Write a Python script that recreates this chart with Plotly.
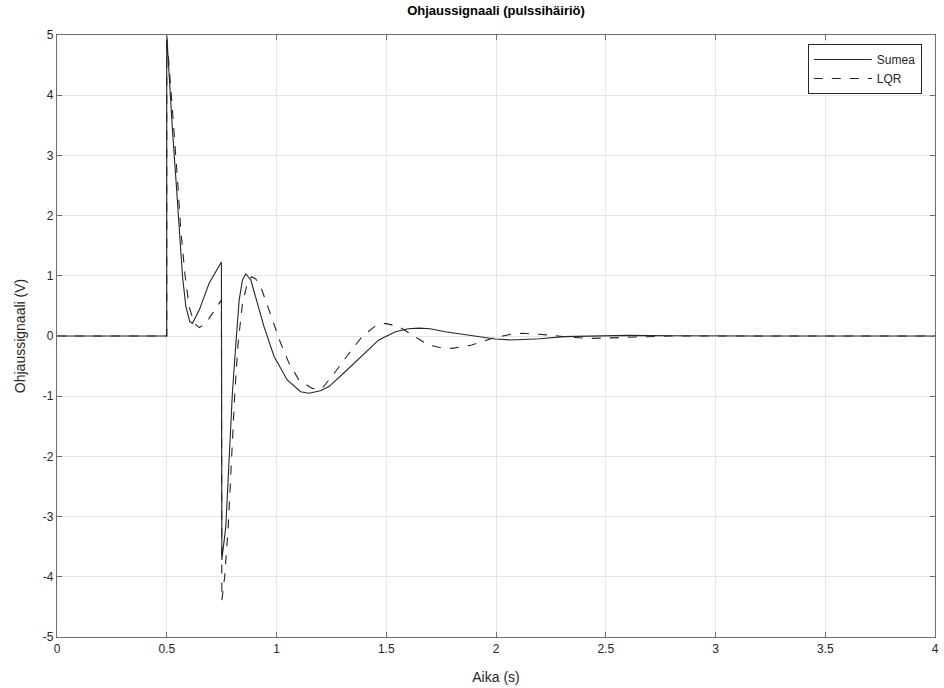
import plotly.graph_objects as go

# Sumea (fuzzy) controller signal
t_sumea = [0, 0.5, 0.5, 0.511, 0.526, 0.542, 0.557, 0.572, 0.587, 0.605, 0.617, 0.648, 0.693, 0.746,
           0.749, 0.751, 0.769, 0.784, 0.799, 0.815, 0.83, 0.845, 0.86, 0.883, 0.913, 0.943, 0.989,
           1.049, 1.11, 1.148, 1.20, 1.239, 1.314, 1.39, 1.466, 1.542, 1.60, 1.648, 1.70, 1.769, 1.89,
           1.996, 2.07, 2.14, 2.2, 2.31, 2.45, 2.6, 2.8, 3.0, 3.5, 4.0]
u_sumea = [0, 0, 5, 4.25, 3.42, 2.59, 1.76, 0.985, 0.49, 0.24, 0.21, 0.43, 0.875, 1.23,
           1.23, -3.72, -3.17, -2.06, -0.95, -0.12, 0.6, 0.93, 1.03, 0.93, 0.54, 0.155, -0.34,
           -0.73, -0.925, -0.95, -0.91, -0.84, -0.59, -0.32, -0.066, 0.07, 0.12, 0.13, 0.12, 0.07, 0.0,
           -0.05, -0.066, -0.06, -0.045, -0.01, 0.005, 0.01, 0.003, 0, 0, 0]

# LQR controller signal
t_lqr = [0, 0.5, 0.5, 0.515, 0.53, 0.549, 0.564, 0.584, 0.602, 0.625, 0.648, 0.678, 0.708, 0.746,
         0.749, 0.751, 0.764, 0.78, 0.795, 0.81, 0.825, 0.845, 0.867, 0.886, 0.905, 0.928, 0.966,
         1.019, 1.057, 1.102, 1.163, 1.19, 1.208, 1.269, 1.33, 1.39, 1.45, 1.496, 1.557, 1.617,
         1.693, 1.75, 1.799, 1.89, 1.98, 2.07, 2.12, 2.24, 2.33, 2.435, 2.62, 2.8, 3.0, 3.5, 4.0]
u_lqr = [0, 0, 5, 4.35, 3.55, 2.59, 1.76, 0.985, 0.49, 0.21, 0.14, 0.21, 0.38, 0.6,
         0.6, -4.39, -4.0, -3.17, -2.06, -0.95, -0.12, 0.54, 0.875, 0.985, 0.95, 0.82, 0.43,
         -0.12, -0.45, -0.73, -0.87, -0.885, -0.87, -0.59, -0.29, -0.01, 0.165, 0.21, 0.155, 0.017,
         -0.15, -0.195, -0.205, -0.15, -0.04, 0.03, 0.045, 0.017, -0.02, -0.04, -0.02, 0.0, 0, 0, 0]

x_ticks = [0, 0.5, 1, 1.5, 2, 2.5, 3, 3.5, 4]
x_tick_labels = ["0", "0.5", "1", "1.5", "2", "2.5", "3", "3.5", "4"]
y_ticks = [-5, -4, -3, -2, -1, 0, 1, 2, 3, 4, 5]
y_tick_labels = ["-5", "-4", "-3", "-2", "-1", "0", "1", "2", "3", "4", "5"]

ink = "#262626"
axis_gray = "#6e6e6e"
font = "Liberation Sans, Arial, sans-serif"

fig = go.Figure()
fig.add_trace(go.Scatter(x=t_sumea, y=u_sumea, mode="lines", name="Sumea",
                         line=dict(color=ink, width=1.1)))
fig.add_trace(go.Scatter(x=t_lqr, y=u_lqr, mode="lines", name="LQR",
                         line=dict(color=ink, width=1.1, dash="dash")))

axis_common = dict(showline=True, linecolor=axis_gray, linewidth=1.2, mirror="ticks",
                   ticks="inside", ticklen=5, tickcolor=axis_gray,
                   showgrid=True, gridcolor="#e6e6e6", gridwidth=1, zeroline=False,
                   automargin=False,
                   tickfont=dict(family=font, size=12, color=ink))

fig.update_layout(
    width=944, height=688,
    paper_bgcolor="white", plot_bgcolor="white",
    margin=dict(l=57, r=9, t=35, b=51),
    title=dict(text="<b>Ohjaussignaali (pulssihäiriö)</b>", x=0.5, xref="paper", xanchor="center",
               y=0.991, yref="container", yanchor="top",
               font=dict(family=font, size=13, color="black")),
    xaxis=dict(range=[0, 4], tickvals=x_ticks, ticktext=x_tick_labels,
               title=dict(text="Aika (s)", font=dict(family=font, size=14, color=ink), standoff=17),
               **axis_common),
    yaxis=dict(range=[-5, 5], tickvals=y_ticks, ticktext=y_tick_labels,
               title=dict(text="Ohjaussignaali (V)", font=dict(family=font, size=14, color=ink), standoff=13),
               **axis_common),
    legend=dict(x=0.985, y=0.985, xanchor="right", yanchor="top",
                bgcolor="white", bordercolor="#262626", borderwidth=1,
                font=dict(family=font, size=12, color=ink),
                tracegroupgap=0, itemwidth=58),
    showlegend=True,
)

fig.write_html("out.html", config={"displayModeBar": False},
               post_script="document.body.style.margin='0';")
